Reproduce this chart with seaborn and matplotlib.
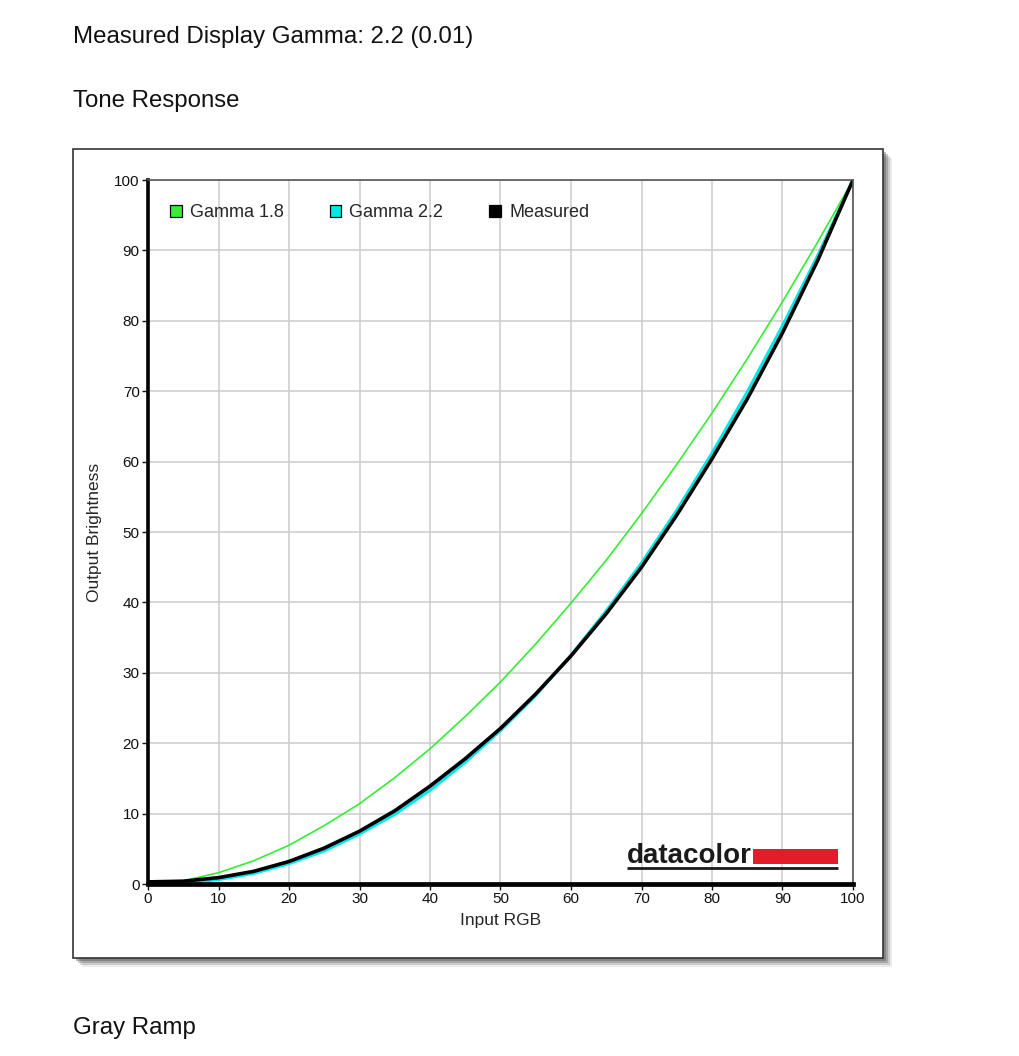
import numpy as np
import pandas as pd
import matplotlib
matplotlib.use('Agg')
import matplotlib.pyplot as plt
import seaborn as sns
from matplotlib.patches import Rectangle, Patch

# values
input_rgb = [0, 5, 10, 15, 20, 25, 30, 35, 40, 45, 50, 55, 60, 65, 70, 75, 80, 85, 90, 95, 100]
gamma_18 = [0.2, 0.45, 1.6, 3.3, 5.5, 8.3, 11.4, 15.1, 19.2, 23.8, 28.7, 34.1, 39.9, 46.0, 52.6, 59.6, 66.9, 74.6, 82.7, 91.2, 100]
gamma_22 = [0.1, 0.15, 0.63, 1.5, 2.9, 4.7, 7.1, 9.9, 13.3, 17.3, 21.8, 26.8, 32.5, 38.8, 45.6, 53.1, 61.2, 69.9, 79.3, 89.3, 100]
measured = [0.3, 0.4, 0.9, 1.8, 3.2, 5.1, 7.5, 10.4, 13.9, 17.8, 22.1, 27.0, 32.4, 38.4, 45.0, 52.4, 60.4, 68.9, 78.3, 88.6, 100]

series_names = ['Gamma 1.8', 'Gamma 2.2', 'Measured']
series_colors = ['#33ee33', '#00e8e8', '#000000']
series_widths = [1.2, 2.2, 2.6]

df = pd.DataFrame({'Input RGB': input_rgb, 'Gamma 1.8': gamma_18,
                   'Gamma 2.2': gamma_22, 'Measured': measured})

sns.set_style('white')
plt.rcParams['font.family'] = ['Liberation Sans', 'DejaVu Sans']

fig = plt.figure(figsize=(10.2, 10.56), dpi=100)
W, H = 1020, 1056

# page headings
fig.text(73 / W, 1 - 37 / H, 'Measured Display Gamma: 2.2 (0.01)', fontsize=17.3, va='center', color='#111111')
fig.text(73 / W, 1 - 101 / H, 'Tone Response', fontsize=17.3, va='center', color='#111111')
fig.text(73 / W, 1 - 1028 / H, 'Gray Ramp', fontsize=17.3, va='center', color='#111111')

# chart box with drop shadow
bx0, bx1, by0, by1 = 73, 883, 149, 958
for off, a in [(9, 0.10), (7, 0.18), (5, 0.28), (3, 0.35)]:
    fig.patches.append(Rectangle(((bx0 + off) / W, 1 - (by1 + off) / H), (bx1 - bx0) / W, (by1 - by0) / H,
                                 transform=fig.transFigure, facecolor='#444444', alpha=a, edgecolor='none', zorder=0))
fig.patches.append(Rectangle((bx0 / W, 1 - by1 / H), (bx1 - bx0) / W, (by1 - by0) / H,
                             transform=fig.transFigure, facecolor='white', edgecolor='#333333', lw=1.2, zorder=1))

ax = fig.add_axes([148 / W, 1 - 884 / H, (853 - 148) / W, (884 - 180) / H])
ax.set_zorder(2)
ax.patch.set_alpha(0)

for name, c, lw in zip(series_names, series_colors, series_widths):
    sns.lineplot(data=df, x='Input RGB', y=name, color=c, lw=lw, ax=ax, legend=False, zorder=3)

ax.set_xlim(0, 100)
ax.set_ylim(0, 100)
ax.set_xticks(range(0, 101, 10))
ax.set_yticks(range(0, 101, 10))
ax.grid(True, color='#cccccc', lw=1.1)
ax.set_axisbelow(True)
ax.tick_params(axis='both', which='both', direction='out', length=4, width=1, labelsize=11,
               colors='#111111', left=True, bottom=True, pad=2)
ax.set_xlabel('Input RGB', fontsize=12.5, labelpad=5)
ax.set_ylabel('Output Brightness', fontsize=12.5, labelpad=9)

for s in ['top', 'right']:
    ax.spines[s].set_color('#555555')
    ax.spines[s].set_linewidth(1.2)
ax.spines['left'].set_color('black')
ax.spines['left'].set_linewidth(2.6)
ax.spines['bottom'].set_color('black')
ax.spines['bottom'].set_linewidth(3.4)
for s in ax.spines.values():
    s.set_zorder(5)

handles = [Patch(facecolor=c, edgecolor='black', lw=0.9) for c in series_colors]
ax.legend(handles, series_names, loc='upper left', bbox_to_anchor=(0.031, 0.966), ncol=3,
          frameon=False, fontsize=13, handlelength=0.65, handleheight=0.65, handletextpad=0.45,
          columnspacing=2.55, borderpad=0, borderaxespad=0)

# datacolor logo
ax.text(67.9, 2.98, 'datacolor', fontsize=20, fontweight='bold', color='#1a1a1a', ha='left', va='baseline',
        zorder=4)
ax.add_patch(Rectangle((85.8, 2.84), 12.1, 2.13, facecolor='#e41b2a', edgecolor='none', zorder=4))
ax.plot([67.9, 97.9], [2.27, 2.27], color='#1a1a1a', lw=2.0, zorder=4, solid_capstyle='butt')

fig.savefig('out.png', dpi=100, facecolor='white')
